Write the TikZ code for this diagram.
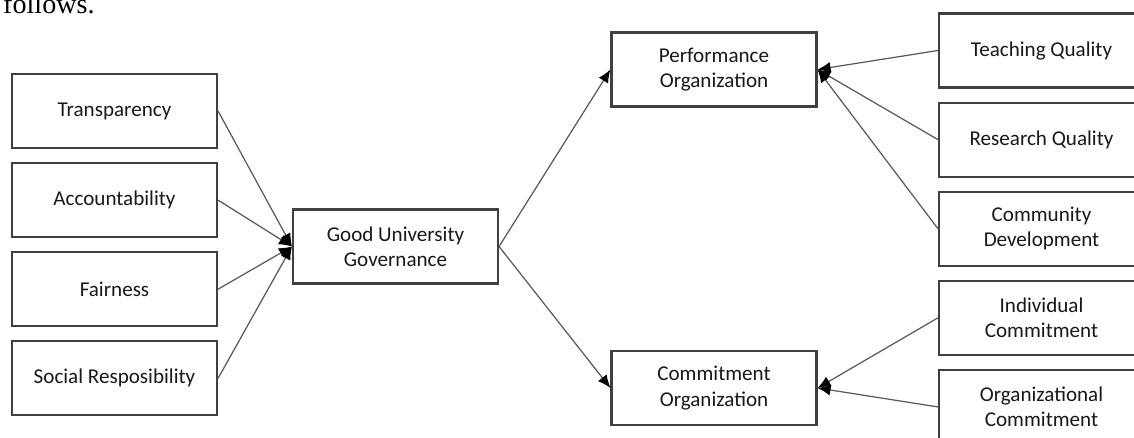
\documentclass[tikz,border=0pt]{standalone}
\usepackage{fontspec}
\setmainfont{Carlito}
\newfontfamily\bodyfont{Liberation Serif}
\usetikzlibrary{positioning}
\usetikzlibrary{arrows.meta}

\tikzset{
  box/.style={draw=black!75, line width=1.2pt, fill=white,
    minimum width=4.1cm, minimum height=1.48cm, align=center,
    text=black!90, font=\fontsize{12}{14.4}\selectfont},
  link/.style={draw=black!65, line width=0.7pt,
    -{Latex[length=2.6mm,width=2.2mm,fill=black,color=black]}},
}

\begin{document}
\begin{tikzpicture}
	\useasboundingbox (0,0) rectangle (22.68,-8.74);
	\node[anchor=base west, font=\bodyfont\fontsize{16}{18}\selectfont] (lead) at (-0.06,-0.27) {follows.};

	% Principles of governance
	\node[box] at (2.29,-2.22) (TR) {Transparency};
	\node[box, below=0.26cm of TR] (AC) {Accountability};
	\node[box, below=0.26cm of AC] (FA) {Fairness};
	\node[box, below=0.26cm of FA] (SR) {Social Resposibility};

	\node[box] at (7.91,-4.93) (GUG) {Good University\\Governance};

	% Outcomes
	\node[box] at (14.28,-1.39) (PO) {Performance\\Organization};
	\node[box] at (14.28,-7.76) (CO) {Commitment\\Organization};

	% Indicators
	\node[box] at (20.83,-1.01) (TQ) {Teaching Quality};
	\node[box, below=0.26cm of TQ] (RQ) {Research Quality};
	\node[box, below=0.26cm of RQ] (CD) {Community\\Development};
	\node[box, below=0.26cm of CD] (IC) {Individual\\Commitment};
	\node[box, below=0.26cm of IC] (OC) {Organizational\\Commitment};

	% Connect the nodes
	\foreach \src in {TR, AC, FA, SR}
		\draw[link] (\src.east) -- (GUG.west);
	\draw[link] (GUG.east) -- (PO.west);
	\draw[link] (GUG.east) -- (CO.west);
	\foreach \src in {TQ, RQ, CD}
		\draw[link] (\src.west) -- (PO.east);
	\foreach \src in {IC, OC}
		\draw[link] (\src.west) -- (CO.east);
\end{tikzpicture}
\end{document}
